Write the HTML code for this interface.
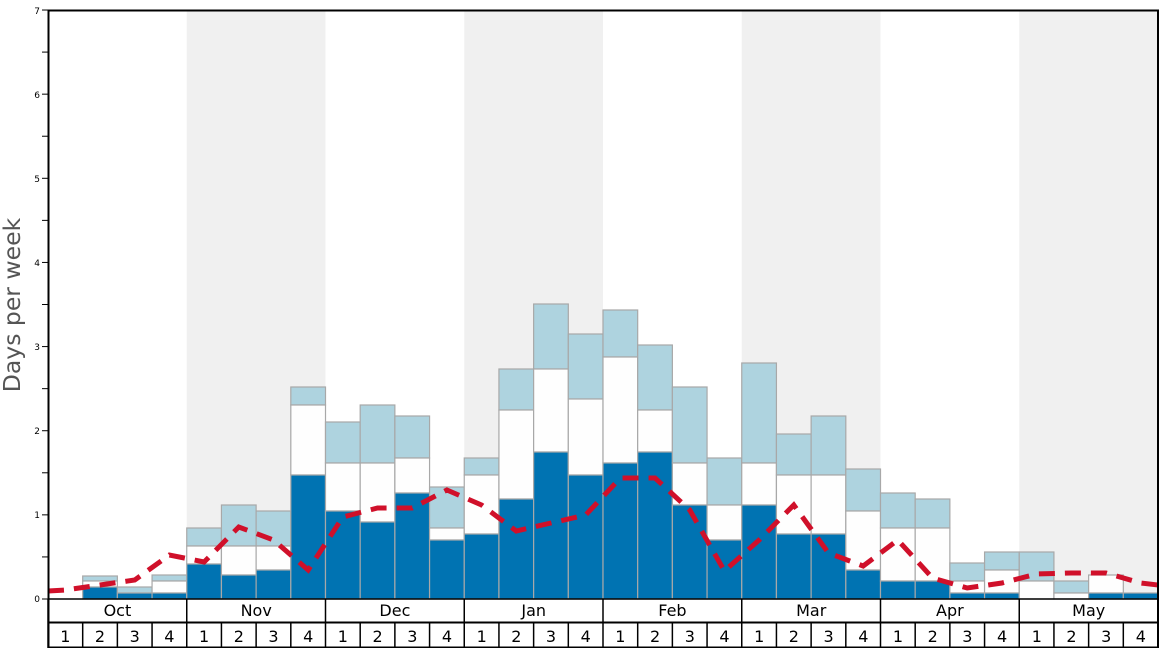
<!DOCTYPE html>
<html><head><meta charset="utf-8"><style>
body{margin:0;background:#fff}
svg{display:block;font-family:"DejaVu Sans","Liberation Sans",sans-serif}
</style></head><body>
<svg id="s" width="1168" height="648" viewBox="0 0 1168 648">
<rect x="0" y="0" width="1168" height="648" fill="#fff"/>
<g id="bands"></g>
<g id="bars"></g>
<polyline id="line" fill="none" stroke="#d0102a" stroke-width="5" stroke-dasharray="16,10"/>
<g id="axis" stroke="#000" stroke-width="1"></g>
<rect x="48.5" y="10.5" width="1109.5" height="637" fill="none" stroke="#000" stroke-width="2"/>
<line x1="48" y1="599" x2="1158" y2="599" stroke="#000" stroke-width="1.5"/>
<line x1="48" y1="622.5" x2="1158" y2="622.5" stroke="#000" stroke-width="2"/>
<g id="vl" stroke="#000" stroke-width="1.5"></g>
<g font-size="16" text-anchor="middle" fill="#000">
<text x="117.4" y="616">Oct</text><text x="256.2" y="616">Nov</text><text x="394.9" y="616">Dec</text><text x="533.7" y="616">Jan</text>
<text x="672.4" y="616">Feb</text><text x="811.2" y="616">Mar</text><text x="949.9" y="616">Apr</text><text x="1088.7" y="616">May</text>
</g>
<g font-size="16" text-anchor="middle" fill="#000">
<text x="65.3" y="642">1</text><text x="100" y="642">2</text><text x="134.7" y="642">3</text><text x="169.4" y="642">4</text>
<text x="204.1" y="642">1</text><text x="238.8" y="642">2</text><text x="273.5" y="642">3</text><text x="308.2" y="642">4</text>
<text x="342.9" y="642">1</text><text x="377.6" y="642">2</text><text x="412.3" y="642">3</text><text x="447" y="642">4</text>
<text x="481.7" y="642">1</text><text x="516.3" y="642">2</text><text x="551" y="642">3</text><text x="585.7" y="642">4</text>
<text x="620.4" y="642">1</text><text x="655.1" y="642">2</text><text x="689.8" y="642">3</text><text x="724.5" y="642">4</text>
<text x="759.2" y="642">1</text><text x="793.9" y="642">2</text><text x="828.6" y="642">3</text><text x="863.3" y="642">4</text>
<text x="898" y="642">1</text><text x="932.7" y="642">2</text><text x="967.4" y="642">3</text><text x="1002.1" y="642">4</text>
<text x="1036.8" y="642">1</text><text x="1071.5" y="642">2</text><text x="1106.2" y="642">3</text><text x="1140.9" y="642">4</text>
</g>
<g font-size="9" text-anchor="end" fill="#000">
<text x="40" y="602">0</text><text x="40" y="518">1</text><text x="40" y="434">2</text><text x="40" y="350">3</text>
<text x="40" y="266">4</text><text x="40" y="182">5</text><text x="40" y="98">6</text><text x="40" y="14">7</text>
</g>
<text transform="translate(20,305) rotate(-90)" font-size="23.5" fill="#555" text-anchor="middle">Days per week</text>
</svg>
<script>
var NS="http://www.w3.org/2000/svg",w=1110/32;
function el(p,t,a){var e=document.createElementNS(NS,t);for(var k in a)e.setAttribute(k,a[k]);document.getElementById(p).appendChild(e);return e;}
[1,3,5,7].forEach(function(m){el("bands","rect",{x:48+m*4*w,y:10,width:4*w,height:589,fill:"#f0f0f0"});});
var d=[[599,599,599],[587,581,576],[593,593,587],[593,581,575],[564,546,528],[575,546,505],[570,546,511],[475,405,387],
[511,463,422],[522,463,405],[493,458,416],[540,528,487],[534,475,458],[499,410,369],[452,369,304],[475,399,334],
[463,357,310],[452,410,345],[505,463,387],[540,505,458],[505,463,363],[534,475,434],[534,475,416],[570,511,469],
[581,528,493],[581,528,499],[593,581,563],[593,570,552],[599,581,552],[599,593,581],[593,575,575],[593,593,593]];
d.forEach(function(b,i){var x=48+i*w;
 if(b[2]<599){
 el("bars","rect",{x:x,y:b[2],width:w,height:b[1]-b[2],fill:"#aed3df",stroke:"#a8a8a8","stroke-width":1.2});
 el("bars","rect",{x:x,y:b[1],width:w,height:b[0]-b[1],fill:"#fefefe",stroke:"#a8a8a8","stroke-width":1.2});
 el("bars","rect",{x:x,y:b[0],width:w,height:599-b[0],fill:"#0073b2",stroke:"#a8a8a8","stroke-width":1.2});}
});
var ly=[590,585,580,555,562,527,540,570,517,508,508,490,505,531,523,515,478,478,510,571,540,505,553,566,540,578,588,583,574,573,573,583];
var pts=["48,591"];ly.forEach(function(y,i){pts.push((48+(i+.5)*w)+","+y);});pts.push("1158,585");
document.getElementById("line").setAttribute("points",pts.join(" "));
for(var v=0;v<=7;v+=0.5){var y=599-v*84.14;el("axis","line",{x1:42,y1:y,x2:48,y2:y});}
for(var i=0;i<=32;i++){var x=48+i*w;el("vl","line",{x1:x,y1:i%4==0?599:622,x2:x,y2:648});}
</script>
</body></html>
